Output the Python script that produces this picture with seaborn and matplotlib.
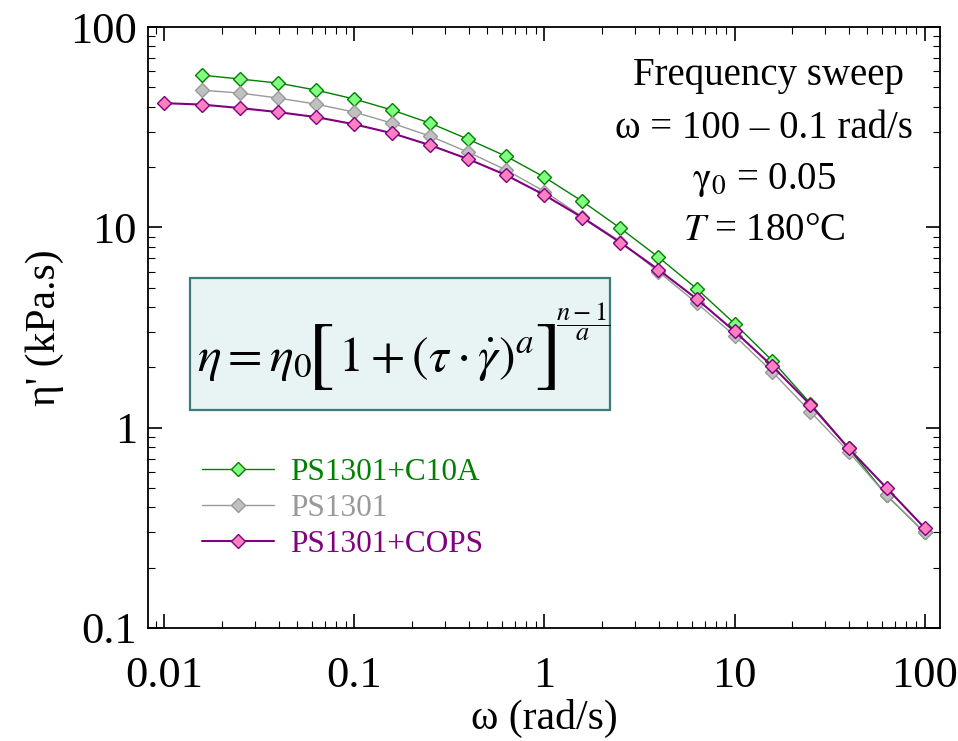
import numpy as np
import pandas as pd
import matplotlib
matplotlib.use('Agg')
import matplotlib.pyplot as plt
from matplotlib.patches import Rectangle
import seaborn as sns

# frequency sweep, 5 points per decade
omega = [0.01, 0.0158, 0.0251, 0.0398, 0.0631, 0.1, 0.158, 0.251, 0.398, 0.631,
         1, 1.58, 2.51, 3.98, 6.31, 10, 15.8, 25.1, 39.8, 63.1, 100]

eta_c10a = [57.5, 55.0, 52.5, 48.4, 43.7, 38.5, 33.1, 27.5, 22.6, 17.8,
            13.5, 9.9, 7.1, 4.95, 3.31, 2.16, 1.32, 0.79, 0.46, 0.30]
eta_ps = [48.4, 46.8, 44.2, 41.2, 37.6, 33.1, 28.5, 23.7, 19.3, 15.1,
          11.3, 8.5, 6.0, 4.2, 2.88, 1.90, 1.20, 0.76, 0.46, 0.30]
eta_cops = [41.7, 41.0, 39.4, 37.6, 35.5, 32.7, 29.5, 25.7, 21.9, 18.2, 14.5,
            11.2, 8.4, 6.15, 4.4, 3.03, 2.03, 1.30, 0.79, 0.50, 0.316]

series = [
    ("PS1301+C10A", omega[1:], eta_c10a, "#008000", "#80ff80", 1.0, 7),
    ("PS1301", omega[1:], eta_ps, "#999999", "#c0c0c0", 1.0, 7),
    ("PS1301+COPS", omega, eta_cops, "#800080", "#ff80c0", 1.5, 7.5),
]

sns.set_theme(style='ticks')
plt.rcParams['font.family'] = ['Liberation Serif', 'DejaVu Serif']
plt.rcParams['mathtext.fontset'] = 'stix'
plt.rcParams['text.color'] = 'black'
plt.rcParams['axes.labelcolor'] = 'black'
plt.rcParams['xtick.color'] = 'black'
plt.rcParams['ytick.color'] = 'black'

fig = plt.figure(figsize=(9.58, 7.41), dpi=100)
ax = fig.add_axes([0.1545, 0.1525, 0.827, 0.811])
ax.set_xscale('log')
ax.set_yscale('log')

for name, x, y, lc, fc, lw, ms in series:
    df = pd.DataFrame({'w': x, 'eta': y})
    sns.lineplot(data=df, x='w', y='eta', ax=ax, color=lc, lw=lw, marker='D',
                 markersize=ms, markerfacecolor=fc, markeredgecolor=lc,
                 markeredgewidth=1.0, label=name)

ax.set_xlim(0.0082, 121)
ax.set_ylim(0.1, 100)
ax.set_xticks([0.01, 0.1, 1, 10, 100])
ax.set_xticklabels(['0.01', '0.1', '1', '10', '100'])
ax.set_yticks([0.1, 1, 10, 100])
ax.set_yticklabels(['0.1', '1', '10', '100'])
ax.tick_params(which='both', direction='in', top=True, right=True, labelsize=32)
ax.tick_params(which='major', length=10, width=1.2)
ax.tick_params(which='minor', length=5, width=0.8)
ax.tick_params(axis='x', which='major', pad=20)
ax.tick_params(axis='y', which='major', pad=8)
for s in ax.spines.values():
    s.set_linewidth(1.3)
    s.set_color('black')

ax.set_xlabel('ω (rad/s)', fontsize=30, labelpad=2)
ax.set_ylabel("η' (kPa.s)", fontsize=30, labelpad=4)

ax.text(0.783, 0.920, 'Frequency sweep', transform=ax.transAxes, ha='center',
        va='center', fontsize=28)
ax.text(0.778, 0.832, 'ω = 100 – 0.1 rad/s', transform=ax.transAxes, ha='center',
        va='center', fontsize=28)
ax.text(0.778, 0.745, r'$\mathrm{\gamma_0}$ = 0.05', transform=ax.transAxes,
        ha='center', va='center', fontsize=28)
ax.text(0.778, 0.662, r'$T$ = 180°C', transform=ax.transAxes, ha='center',
        va='center', fontsize=28)

# equation box, pieces placed in pixel positions of the figure
W, H = 958, 741
fig.patches.append(Rectangle((190 / W, 1 - 410 / H), 420 / W, 132 / H,
                             transform=fig.transFigure, facecolor='#e8f4f4',
                             edgecolor='#3d7a7a', lw=1.6, zorder=3))
eq_parts = [
    (197, 371, r'$\eta = \eta_0$', 36),
    (308, 377, '[', 58),
    (338, 371, r'$1+(\tau\cdot\dot{\gamma})^{a}$', 36),
    (534, 377, ']', 58),
]
for px, py, s, fs in eq_parts:
    fig.text(px / W, 1 - py / H, s, ha='left', va='baseline', fontsize=fs,
             zorder=4, math_fontfamily='stix', family='STIXGeneral')
fig.text(583 / W, 1 - 322 / H, r'$\dfrac{n-1}{a}$', ha='center', va='center',
         fontsize=19, zorder=4)

handles = ax.get_lines()[:3]
leg = ax.legend(handles=handles, labels=[s[0] for s in series], loc='upper left',
                bbox_to_anchor=(0.033, 0.33), frameon=False, fontsize=22.5,
                handlelength=2.3, handletextpad=0.5, labelspacing=0.22)
for t, s in zip(leg.get_texts(), series):
    t.set_color(s[3])

fig.savefig('out.png', dpi=100)
